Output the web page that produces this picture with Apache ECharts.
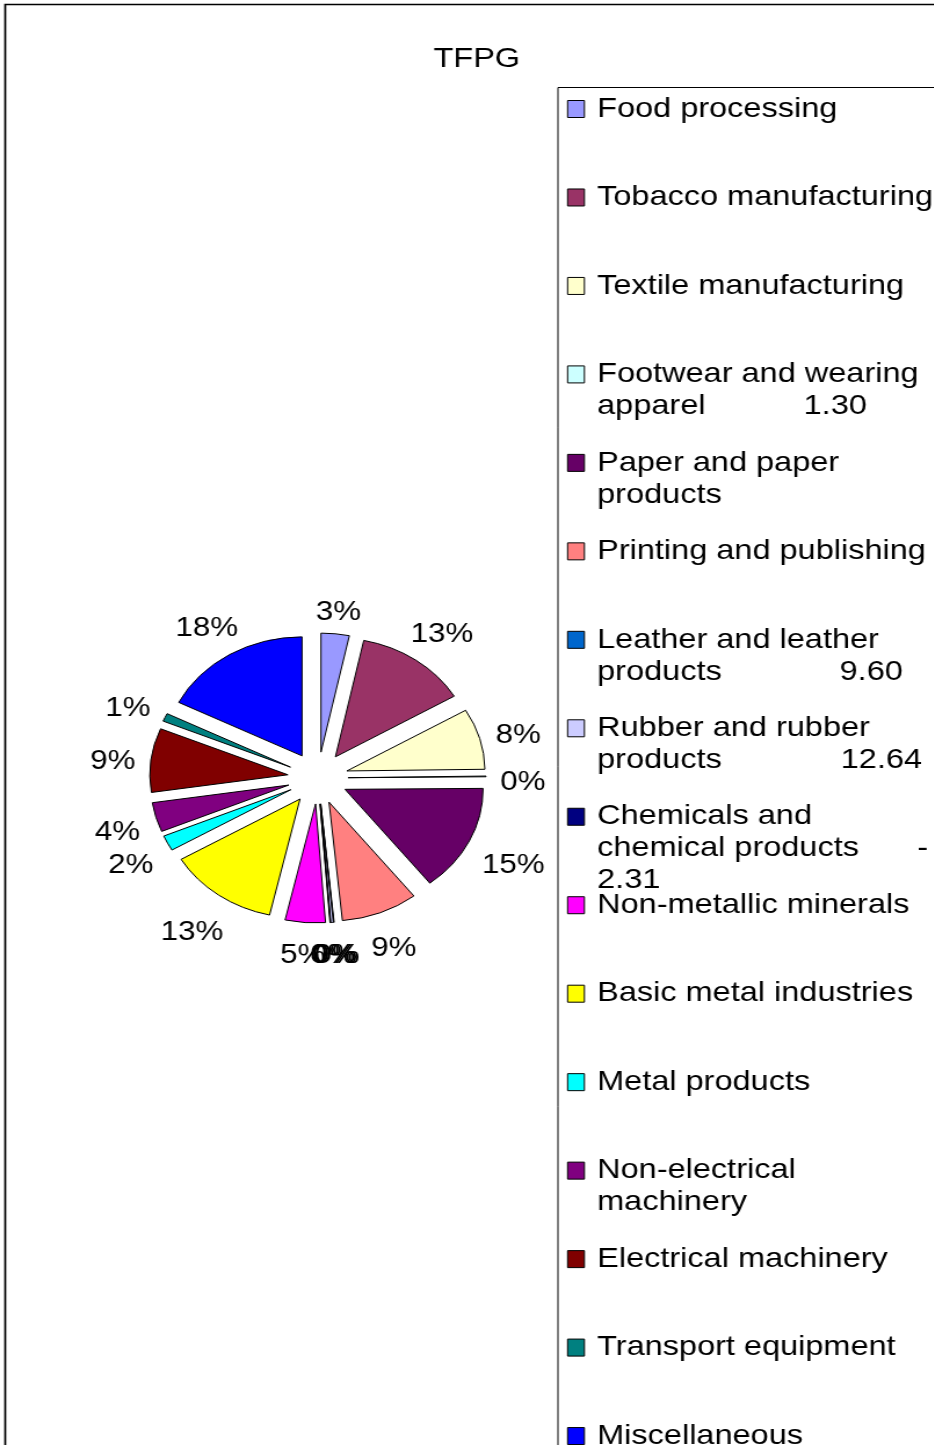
<!DOCTYPE html>
<html>
<head>
<meta charset="utf-8">
<title>TFPG</title>
<script src="https://cdn.jsdelivr.net/npm/echarts/dist/echarts.min.js"></script>
<style>
  html, body { margin: 0; padding: 0; background: #fff; overflow: hidden; }
  #wrap { width: 934px; height: 1445px; overflow: hidden; position: relative; }
  /* the chart is laid out narrower and stretched horizontally */
  #chart { width: 805px; height: 1445px; transform: scaleX(1.16); transform-origin: 0 0; }
</style>
</head>
<body>
<div id="wrap"><div id="chart"></div></div>
<script>
// Industry categories (series order, clockwise from 12 o'clock)
const categories = [
  'Food processing',
  'Tobacco manufacturing',
  'Textile manufacturing',
  'Footwear and wearing apparel',
  'Paper and paper products',
  'Printing and publishing',
  'Leather and leather products',
  'Rubber and rubber products',
  'Chemicals and chemical products',
  'Non-metallic minerals',
  'Basic metal industries',
  'Metal products',
  'Non-electrical machinery',
  'Electrical machinery',
  'Transport equipment',
  'Miscellaneous'
];

// Share of TFPG by industry
const shares = [3.3, 13.2, 8.3, 0.1, 14.6, 9.0, 0.05, 0.3, 0.05, 4.7, 13.0, 2.1, 4.0, 8.7, 1.1, 17.6];

// Legend text, line by line; a second entry on a line is a tabbed value
const legendLines = [
  [['Food processing']],
  [['Tobacco manufacturing']],
  [['Textile manufacturing']],
  [['Footwear and wearing'], ['apparel', '1.30']],
  [['Paper and paper'], ['products']],
  [['Printing and publishing']],
  [['Leather and leather'], ['products', '9.60']],
  [['Rubber and rubber'], ['products', '12.64']],
  [['Chemicals and'], ['chemical products', '-'], ['2.31']],
  [['Non-metallic minerals']],
  [['Basic metal industries']],
  [['Metal products']],
  [['Non-electrical'], ['machinery']],
  [['Electrical machinery']],
  [['Transport equipment']],
  [['Miscellaneous']]
];

// Slice colours
const palette = [
  '#9999FF', '#993366', '#FFFFCC', '#CCFFFF', '#660066', '#FF8080', '#0066CC', '#CCCCFF',
  '#000080', '#FF00FF', '#FFFF00', '#00FFFF', '#800080', '#800000', '#008080', '#0000FF'
];

const FONT = '"Liberation Sans", Arial, sans-serif';

// Legend layout: one row per entry at a fixed pitch, values on tab stops
const LINE_H = 32;
const ROW0 = 109;
const ROW_PITCH = 88.47;
const TAB_STOPS = { 3: 178, 6: 209, 7: 210, 8: 276 };

// Pie geometry
const PIE_CX = 274;
const PIE_CY = 778;
const PIE_R = 119;
const SELECT_OFFSET = 26;
const LABEL_SIZE = 27;
const LABEL_GAP = 12;

// Radial reach of each percentage label so its box sits just clear of the rim
const shareTotal = shares.reduce(function (a, b) { return a + b; }, 0);
let acc = 0;
const labelReach = shares.map(function (v) {
  const mid = (acc + v / 2) / shareTotal * 2 * Math.PI;
  acc += v;
  const sx = Math.abs(Math.sin(mid)), sy = Math.abs(Math.cos(mid));
  const digits = String(Math.round(v / shareTotal * 100)).length;
  const w = (digits * 0.556 + 0.889) * LABEL_SIZE; // Arial-metric advance widths
  return LABEL_GAP + sx * w / 2 + sy * LABEL_SIZE / 2;
});

const legends = categories.map(function (name, i) {
  const lines = legendLines[i];
  const n = lines.length;
  const total = 2 * n - 1; // blank lines above keep the first line level with the swatch
  const body = lines.map(function (l) {
    return l.length > 1 ? '{tab|' + l[0] + '}' + l[1] : l[0];
  }).join('\n');
  const text = '\n'.repeat(n - 1) + body;
  return {
    data: [name],
    orient: 'vertical',
    left: 488.8,
    top: ROW0 + ROW_PITCH * i - total * LINE_H / 2,
    padding: 0,
    icon: 'rect',
    itemWidth: 14.5,
    itemHeight: 17,
    selectedMode: false,
    itemStyle: { borderColor: '#000', borderWidth: 1 },
    formatter: function () { return text; },
    textStyle: {
      fontFamily: FONT,
      fontSize: 28,
      lineHeight: LINE_H,
      color: '#000',
      padding: [0, 0, 0, 6],
      rich: { tab: { width: TAB_STOPS[i] || 0 } }
    }
  };
});

const chart = echarts.init(document.getElementById('chart'), null, { renderer: 'canvas' });

chart.setOption({
  animation: false,
  backgroundColor: '#fff',
  title: {
    text: 'TFPG',
    left: 411,
    top: 45,
    padding: 0,
    textAlign: 'center',
    textStyle: { fontFamily: FONT, fontSize: 28, fontWeight: 'normal', color: '#000' }
  },
  graphic: [
    {
      type: 'rect', silent: true, z: 0,
      shape: { x: 4.5, y: 4.5, width: 1400, height: 1800 },
      style: { fill: 'none', stroke: '#000', lineWidth: 1.7 }
    },
    {
      type: 'rect', silent: true, z: 0,
      shape: { x: 481, y: 87.5, width: 800, height: 1600 },
      style: { fill: 'none', stroke: '#000', lineWidth: 1 }
    }
  ],
  legend: legends,
  series: [{
    type: 'pie',
    center: [PIE_CX, PIE_CY],
    radius: PIE_R,
    startAngle: 90,
    clockwise: true,
    selectedMode: 'multiple',
    selectedOffset: SELECT_OFFSET,
    avoidLabelOverlap: false,
    itemStyle: { borderColor: '#000', borderWidth: 1 },
    label: {
      show: true,
      position: 'outside',
      formatter: function (p) { return '{pct|' + Math.round(p.percent) + '%}'; },
      fontFamily: FONT,
      fontSize: LABEL_SIZE,
      color: '#000',
      distanceToLabelLine: 0,
      rich: {
        pct: { fontFamily: FONT, fontSize: LABEL_SIZE, color: '#000', padding: [12, 0, 0, 0] }
      }
    },
    labelLine: { show: false, length: 20, length2: 0 },
    labelLayout: function () {
      return { align: 'center', verticalAlign: 'middle', hideOverlap: false };
    },
    emphasis: { disabled: true },
    select: { itemStyle: { borderColor: '#000', borderWidth: 1 } },
    data: categories.map(function (name, i) {
      return {
        name: name,
        value: shares[i],
        selected: true,
        itemStyle: { color: palette[i] },
        labelLine: { length: labelReach[i] }
      };
    })
  }]
});
</script>
</body>
</html>
